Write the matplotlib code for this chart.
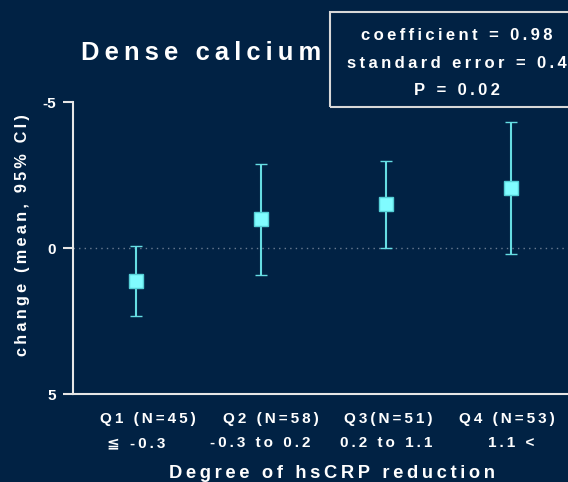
import numpy as np
import matplotlib.pyplot as plt
import matplotlib.transforms as mtransforms
from matplotlib.patches import Rectangle

# data
groups = ["Q1 (N=45)", "Q2 (N=58)", "Q3(N=51)", "Q4 (N=53)"]
ranges = ["≦ -0.3", "-0.3 to 0.2", "0.2 to 1.1", "1.1 <"]
mean_change = np.array([1.13, -1.00, -1.52, -2.07])
ci_lower = np.array([-0.07, -2.90, -3.00, -4.33])
ci_upper = np.array([2.31, 0.91, -0.02, 0.20])
stats = ["coefficient = 0.98", "standard error = 0.4", "P = 0.02"]

bg = "#012244"
fg = "white"
cyan = "#66dde3"
fam = ["Liberation Sans", "DejaVu Sans"]


def spread(s):
    # wide letter spacing like the original slide (thin spaces)
    return "\u2009".join(s)


fig = plt.figure(figsize=(5.68, 4.82), dpi=100, facecolor=bg)
ax = fig.add_axes([0.128, 0.182, 0.872, 0.606], facecolor=bg)

x = np.arange(1, len(groups) + 1)
ax.axhline(0, color="#6b7c92", lw=1, ls=(0, (1, 3)), zorder=1)
ax.errorbar(x, mean_change, yerr=[mean_change - ci_lower, ci_upper - mean_change],
            fmt="s", ms=9.5, mfc="#80fcff", mec="#55cfd6", mew=1,
            ecolor=cyan, elinewidth=1.5, capsize=4.5, capthick=1.5, zorder=3)

ax.set_xlim(0.496, 4.458)
ax.set_ylim(5, -5)
ax.set_yticks([-5, 0, 5])
ax.set_yticklabels(["-5", "0", "5"], fontsize=11, fontweight="bold", color=fg, family=fam)
ax.tick_params(axis="y", length=7, width=1.5, color="#e6e6e6", pad=5)

# second row (hsCRP change range) as tick labels, first row (quartile) above it
ax.set_xticks(x)
ax.set_xticklabels([spread(r) for r in ranges], fontsize=11, fontweight="bold",
                   color=fg, family=fam)
ax.tick_params(axis="x", length=0, pad=30)
shift = [9, 7, 2, -3]  # the quartile names sit a little off-centre in the original
for xi, g, dx in zip(x, groups, shift):
    tr = mtransforms.offset_copy(ax.get_xaxis_transform(), fig=fig, x=dx, y=-18, units="points")
    ax.text(xi, 0, spread(g), transform=tr, fontsize=11, fontweight="bold",
            color=fg, family=fam, ha="center", va="center")

for side in ["top", "right"]:
    ax.spines[side].set_visible(False)
for side in ["left", "bottom"]:
    ax.spines[side].set_color("#e6e6e6")
    ax.spines[side].set_linewidth(1.5)

fig.text(23 / 568, 1 - 235 / 482, spread("change (mean, 95% CI)"), fontsize=11.7,
         fontweight="bold", color=fg, family=fam, rotation=90, ha="center", va="center")
fig.text(332 / 568, 1 - 474 / 482, spread("Degree of hsCRP reduction"), fontsize=13.2,
         fontweight="bold", color=fg, family=fam, ha="center", va="center")

fig.text(81 / 568, 1 - 60 / 482, spread("Dense calcium"), fontsize=18.4,
         fontweight="bold", color=fg, family=fam, ha="left", va="baseline")

fig.patches.append(Rectangle((330 / 568, 1 - 107 / 482), 260 / 568, 95 / 482,
                             transform=fig.transFigure, fill=False,
                             edgecolor="#d8d8d8", lw=1.5))
for i, s in enumerate(stats):
    fig.text(457 / 568, 1 - (40 + 27.5 * i) / 482, spread(s), fontsize=12,
             fontweight="bold", color=fg, family=fam, ha="center", va="baseline")

fig.savefig("out.png", dpi=100, facecolor=bg)
